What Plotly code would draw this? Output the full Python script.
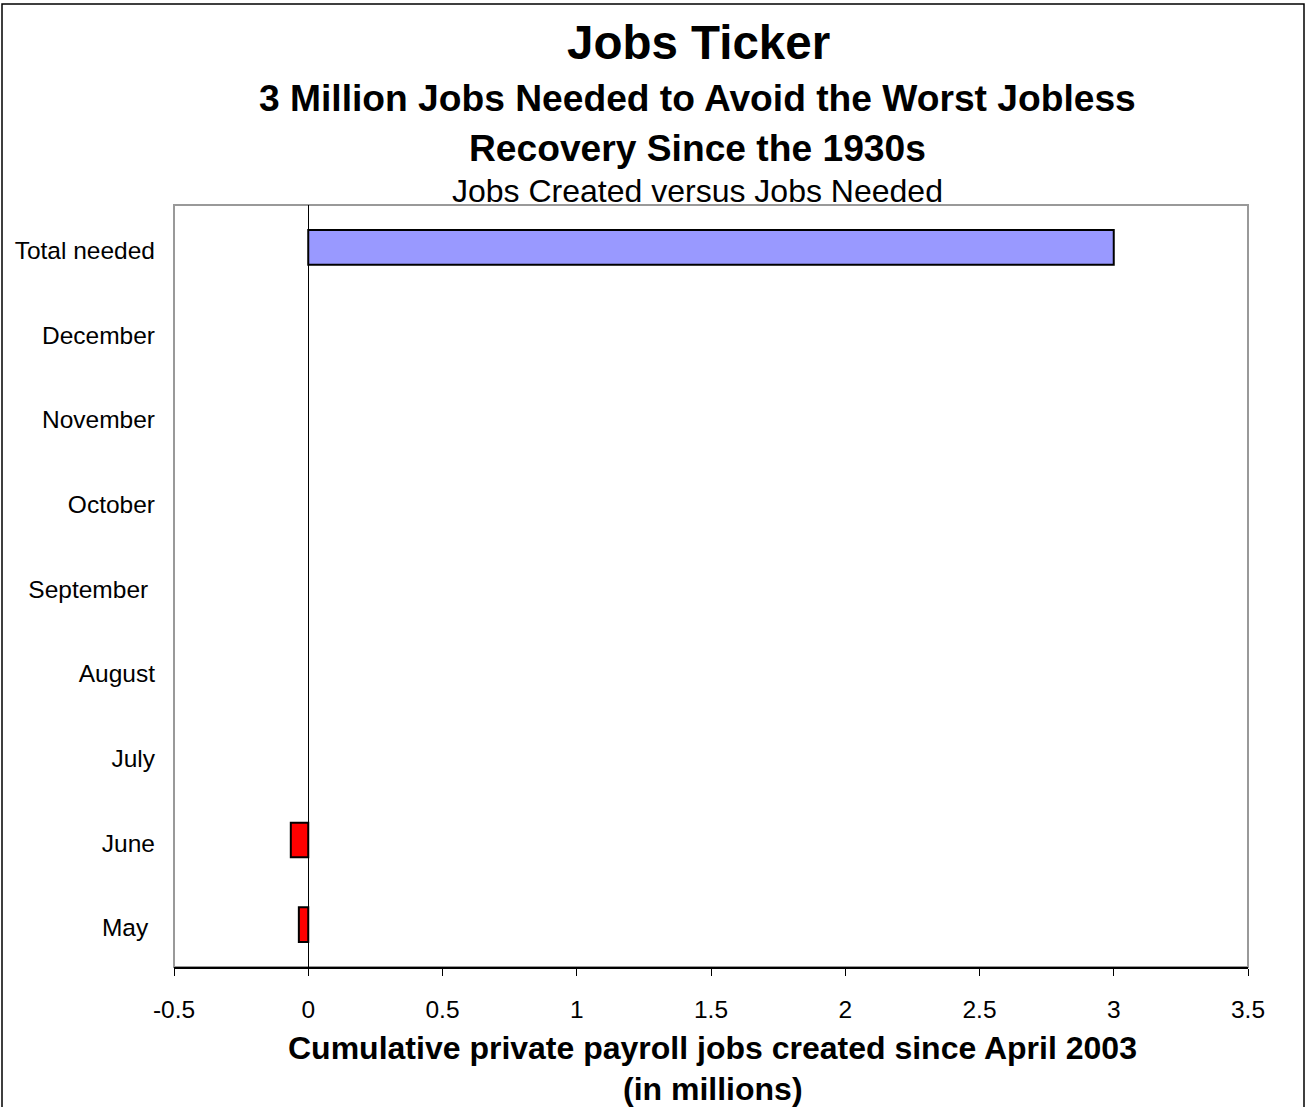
import plotly.graph_objects as go

categories = ["May", "June", "July", "August", "September", "October",
              "November", "December", "Total needed"]
tick_labels = ["May\u00a0", "June", "July", "August", "September\u00a0",
               "October", "November", "December", "Total needed"]
values = [-0.035, -0.065, None, None, None, None, None, None, 3.0]
bar_colors = ["#FF0000", "#FF0000", "#FF0000", "#FF0000", "#FF0000",
              "#FF0000", "#FF0000", "#FF0000", "#9999FF"]
x_ticks = [-0.5, 0, 0.5, 1, 1.5, 2, 2.5, 3, 3.5]
x_tick_text = ["-0.5", "0", "0.5", "1", "1.5", "2", "2.5", "3", "3.5"]

W, H = 1305, 1107
L, R, T, B = 174, 57, 205, 140
PW, PH = W - L - R, H - T - B


def px(xp):
    return (xp - L) / PW


def py(yp):
    return (H - B - yp) / PH


FONT = "Liberation Sans, Arial, sans-serif"

fig = go.Figure()
fig.add_trace(go.Bar(
    y=categories, x=values, orientation="h",
    width=0.41,
    marker=dict(color=bar_colors, line=dict(color="black", width=2)),
    showlegend=False,
))

annotations = [
    dict(text="<b>Jobs Ticker</b>", x=px(698), y=py(43), size=47.5),
    dict(text="<b>3 Million Jobs Needed to Avoid the Worst Jobless</b>", x=px(697.5), y=py(98), size=37.2),
    dict(text="<b>Recovery Since the 1930s</b>", x=px(697.5), y=py(148), size=37.2),
    dict(text="Jobs Created versus Jobs Needed", x=px(697.5), y=py(191), size=32),
    dict(text="<b>Cumulative private payroll jobs created since April 2003</b>", x=px(712.5), y=py(1048), size=32),
    dict(text="<b>(in millions)</b>", x=px(712.5), y=py(1089), size=32),
]
fig.update_layout(annotations=[
    dict(text=a["text"], x=a["x"], y=a["y"], xref="paper", yref="paper",
         xanchor="center", yanchor="middle", showarrow=False,
         font=dict(family=FONT, size=a["size"], color="black"))
    for a in annotations
])

shapes = [
    # plot area border (gray)
    dict(type="rect", xref="paper", yref="paper", x0=0, x1=1, y0=0, y1=1,
         line=dict(color="#999999", width=2), layer="below"),
    # outer frame
    dict(type="rect", xref="paper", yref="paper",
         x0=px(2), x1=px(1304), y0=py(1110), y1=py(4),
         line=dict(color="black", width=1.5), layer="below"),
]
fig.update_layout(shapes=shapes)

fig.update_xaxes(
    range=[-0.5, 3.5], tickvals=x_ticks, ticktext=x_tick_text,
    showgrid=False, zeroline=True, zerolinecolor="black", zerolinewidth=1,
    showline=True, linecolor="black", linewidth=2,
    ticks="outside", ticklen=7, tickcolor="black", tickwidth=1,
    tickfont=dict(family=FONT, size=24.5, color="black"),
    ticklabelstandoff=13,
)
fig.update_yaxes(
    type="category", categoryorder="array", categoryarray=categories,
    tickvals=categories, ticktext=tick_labels,
    showgrid=False, showline=False, ticks="",
    tickfont=dict(family=FONT, size=24.5, color="black"),
    ticklabelstandoff=18, ticklabelshift=3,
)

fig.update_layout(
    width=W, height=H,
    margin=dict(l=L, r=R, t=T, b=B, pad=0),
    plot_bgcolor="white", paper_bgcolor="white",
    font=dict(family=FONT, color="black"),
    bargap=0.5,
)

fig.write_html(
    "out.html",
    config={"displayModeBar": False},
    post_script="document.body.style.margin='0';document.body.style.overflow='hidden';",
)
